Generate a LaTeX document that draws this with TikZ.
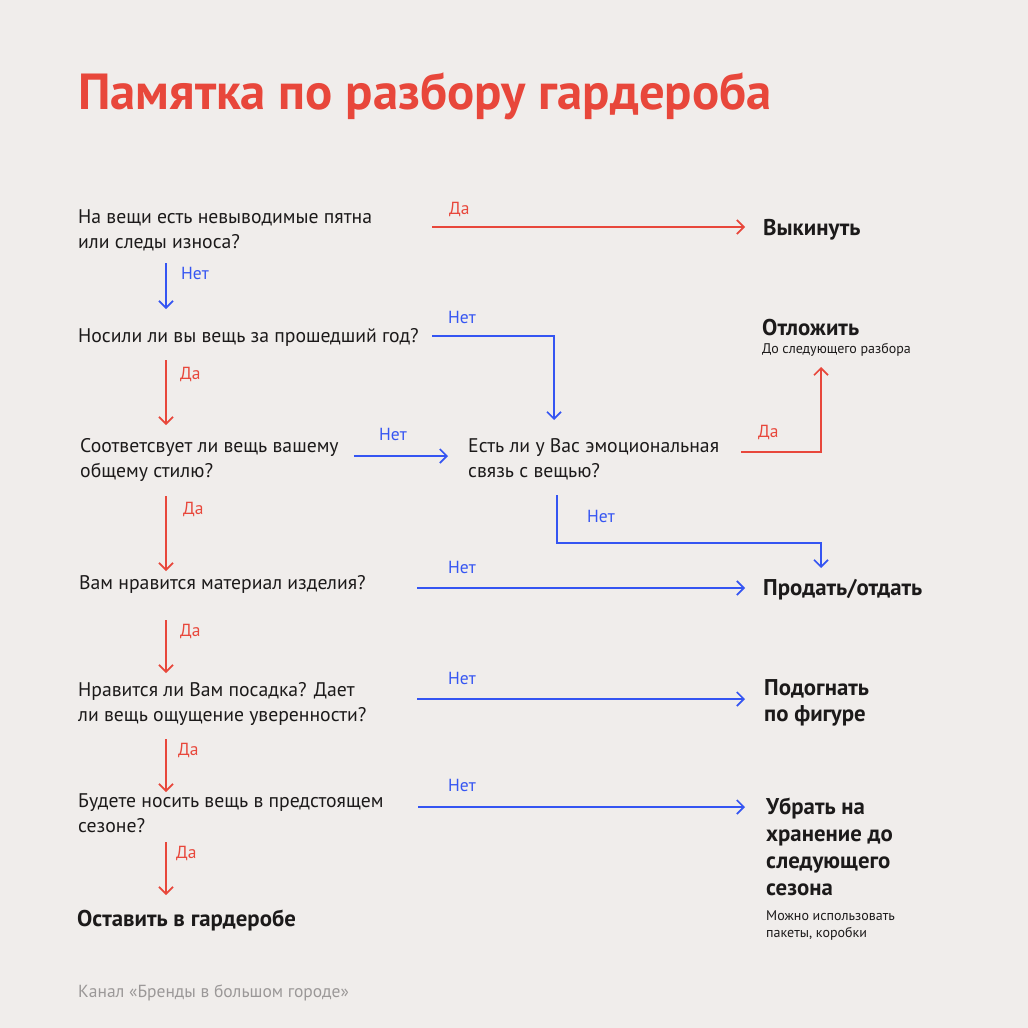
\documentclass[tikz,border=0pt]{standalone}
\usepackage{fontspec}
\setmainfont{PT Sans}
\usepackage{xcolor}
\usepackage{tikz}
\usetikzlibrary{arrows.meta}
\usetikzlibrary{calc}
\definecolor{paper}{HTML}{F0EDEB}
\definecolor{redc}{HTML}{E8473B}
\definecolor{bluec}{HTML}{3555F2}
\definecolor{ink}{HTML}{1C1A1A}
\definecolor{footgrey}{HTML}{9B9898}
\tikzset{
  yesline/.style={draw=redc, line width=1.7pt, -{Straight Barb[length=7pt,width=14pt]}},
  noline/.style={draw=bluec, line width=1.7pt, -{Straight Barb[length=7pt,width=14pt]}},
  question/.style={anchor=base west, inner sep=0pt, align=left, text=ink, font=\fontsize{19.7}{24.5}\selectfont},
  verdict/.style={anchor=base west, inner sep=0pt, align=left, text=ink, font=\bfseries\fontsize{22.8}{26}\selectfont},
  remark/.style={anchor=base west, inner sep=0pt, align=left, text=ink, font=\fontsize{14}{17}\selectfont},
  yestag/.style={anchor=base west, inner sep=0pt, text=redc, font=\fontsize{17.5}{20}\selectfont},
  notag/.style={anchor=base west, inner sep=0pt, text=bluec, font=\fontsize{17.5}{20}\selectfont},
}

\begin{document}
\begin{tikzpicture}[x=1pt, y=-1pt]
    \fill[paper] (0,0) rectangle (1028,1028);
    \useasboundingbox (0,0) rectangle (1028,1028);
    \coordinate (spine) at (166,0);

    \node[anchor=base west, inner sep=0pt, text=redc, font=\bfseries\fontsize{50.7}{52}\selectfont] (title) at (78,109) {Памятка по разбору гардероба};

    \node[question] (q1) at (78,248) {На вещи есть невыводимые пятна\\ или следы износа?};
    \node[question] (q2) at (78,342) {Носили ли вы вещь за прошедший год?};
    \node[question] (q3) at (80,477) {Соответсвует ли вещь вашему\\ общему стилю?};
    \node[question] (q4) at (468,477) {Есть ли у Вас эмоциональная\\ связь с вещью?};
    \node[question] (q5) at (79,589) {Вам нравится материал изделия?};
    \node[question] (q6) at (78,721) {Нравится ли Вам посадка? Дает\\ ли вещь ощущение уверенности?};
    \node[question] (q7) at (78,832) {Будете носить вещь в предстоящем\\ сезоне?};
    \node[verdict] (keep) at (77,926) {Оставить в гардеробе};

    \node[verdict] (out1) at (763,235) {Выкинуть};
    \node[verdict] (out2) at (762,335) {Отложить};
    \node[remark] (out2note) at (762,353) {До следующего разбора};
    \node[verdict] (out3) at (763,595) {Продать/отдать};
    \node[verdict] (out4) at (764,721) {Подогнать\\ по фигуре};
    \node[verdict, font=\bfseries\fontsize{22.8}{26.7}\selectfont] (out5) at (766,895) {Убрать на\\ хранение до\\ следующего\\ сезона};
    \node[remark] (out5note) at (766,937) {Можно использовать\\ пакеты, коробки};

    \node[anchor=base west, inner sep=0pt, text=footgrey, font=\fontsize{17.5}{20}\selectfont] (credit) at (78,997) {Канал «Бренды в большом городе»};

    \coordinate (turn) at ($(out3.base -| 821,0)+(0,-52)$);

    \draw[yesline] ($(out1.base west -| 432,0)+(0,-8)$) -- ($(out1.base west)+(-18,-8)$);
    \node[yestag] (l1) at (449,214) {Да};
    \draw[noline] ($(q1.base -| spine)+(0,15)$) -- ($(q2.base -| spine)+(0,-33)$);
    \node[notag] (l2) at (181,279) {Нет};
    \draw[noline] ($(q2.base -| 432,0)+(0,-6)$) -| ($(q4.base west)+(86,-57)$);
    \node[notag] (l3) at (448,323) {Нет};
    \draw[yesline] ($(q2.base -| spine)+(0,18)$) -- ($(q3.base -| spine)+(0,-52)$);
    \node[yestag] (l4) at (180,379) {Да};
    \draw[noline] ($(q3.base east)+(15,-21)$) -- ($(q4.base west)+(-20,-21)$);
    \node[notag] (l5) at (379,440) {Нет};
    \draw[yesline] ($(q4.base east)+(22,-25)$) -| ($(out2note.base -| 821,0)+(0,14)$);
    \node[yestag] (l6) at (758,437) {Да};
    \draw[noline] ($(q4.base west)+(89,18)$) |- (turn) -- ($(out3.base -| 821,0)+(0,-27)$);
    \node[notag] (l7) at (587,522) {Нет};
    \draw[yesline] ($(q3.base -| spine)+(0,19)$) -- ($(q5.base -| spine)+(0,-18)$);
    \node[yestag] (l8) at (183,514) {Да};
    \draw[noline] ($(out3.base west -| 417,0)+(0,-7)$) -- ($(out3.base west)+(-18,-7)$);
    \node[notag] (l9) at (448,573) {Нет};
    \draw[yesline] ($(q5.base -| spine)+(0,31)$) -- ($(q6.base -| spine)+(0,-48)$);
    \node[yestag] (l10) at (180,636) {Да};
    \draw[noline] ($(out4.base west -| 417,0)+(0,-22)$) -- ($(out4.base west)+(-19,-22)$);
    \node[notag] (l11) at (448,684) {Нет};
    \draw[yesline] ($(q6.base -| spine)+(0,18)$) -- ($(q7.base -| spine)+(0,-40)$);
    \node[yestag] (l12) at (178,755) {Да};
    \draw[noline] ($(q7.base -| 418,0)+(0,-25)$) -- ($(q7.base -| out5.west)+(-21,-25)$);
    \node[notag] (l13) at (448,791) {Нет};
    \draw[yesline] ($(q7.base -| spine)+(0,10)$) -- ($(keep.base -| spine)+(0,-31)$);
    \node[yestag] (l14) at (176,858) {Да};
\end{tikzpicture}
\end{document}
